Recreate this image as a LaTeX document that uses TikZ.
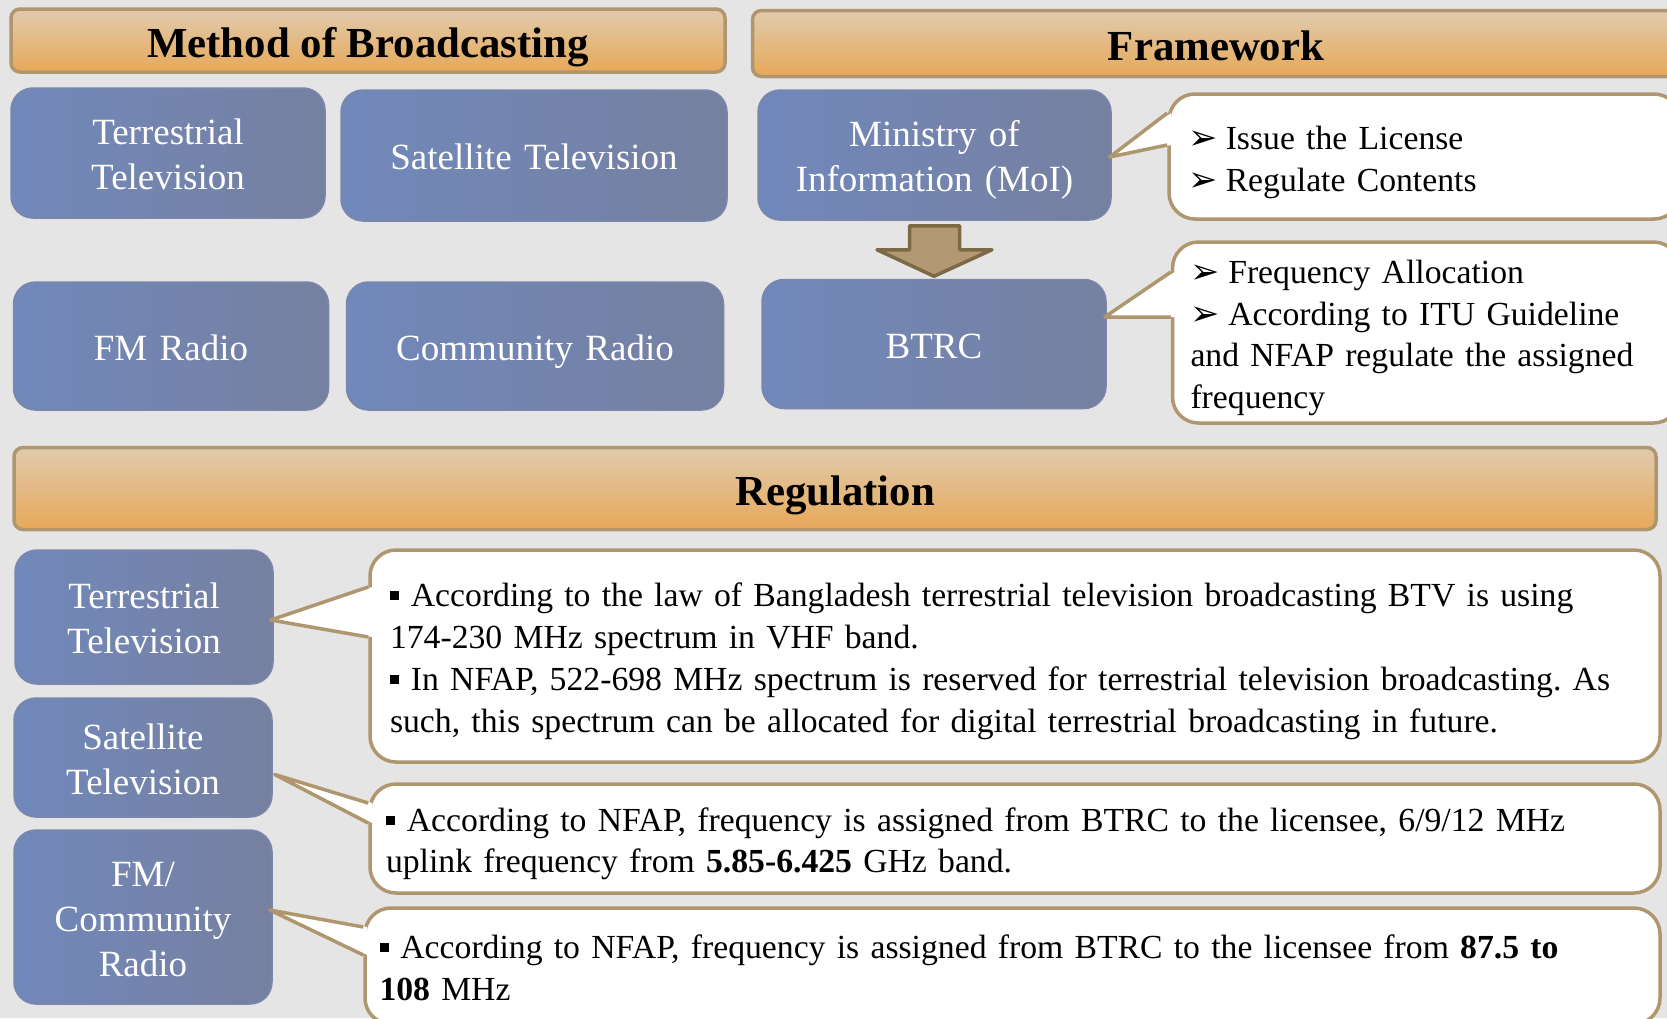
\documentclass[tikz,border=0pt]{standalone}
\usepackage{fontspec}
\setmainfont{Liberation Serif}
\newfontfamily\dingfont{DejaVu Sans}
\usetikzlibrary{calc}
\frenchspacing
\definecolor{paper}{RGB}{229,229,229}
\definecolor{bartop}{RGB}{224,203,174}
\definecolor{barbot}{RGB}{231,168,88}
\definecolor{tanline}{RGB}{176,150,110}
\definecolor{boxleft}{RGB}{113,136,187}
\definecolor{boxright}{RGB}{118,128,160}
\definecolor{boxedge}{RGB}{122,134,170}
\definecolor{arrfill}{RGB}{178,153,115}
\definecolor{arredge}{RGB}{125,105,70}
\newcommand{\arrbul}{{\dingfont\fontsize{35}{35}\selectfont\char"27A2}\hspace{0.25em}}
\newcommand{\sqbul}{\rule[0.2em]{0.27em}{0.27em}\hspace{0.35em}}
\begin{document}
\begin{tikzpicture}[x=1pt,y=-1pt]
	\tikzstyle{every node}+=[inner sep=0pt]
	\tikzstyle{headbar}=[draw=tanline, line width=3.5pt, rounded corners=9pt, top color=bartop, bottom color=barbot, font=\fontsize{42.8}{50}\selectfont\bfseries, execute at begin node={\rule{0pt}{43pt}}, execute at end node={\rule[-9pt]{0pt}{9pt}}]
	\tikzstyle{bluebox}=[draw=boxedge, line width=1.5pt, rounded corners=22pt, left color=boxleft, right color=boxright, text=white, align=center, font=\fontsize{37}{45}\selectfont, execute at begin node={\rule{0pt}{36pt}}, execute at end node={\rule[-8pt]{0pt}{8pt}}]
	\tikzstyle{callout}=[draw=tanline, line width=3.5pt, fill=white, rounded corners=26pt, align=left, font=\fontsize{33.7}{42}\selectfont, execute at begin node={\rule{0pt}{36pt}}, execute at end node={\rule[-9pt]{0pt}{9pt}}]
	\tikzstyle{pointer}=[draw=tanline, line width=3.5pt, line join=round]
	\useasboundingbox (0,0) rectangle (1667,1018);
	\clip (0,0) rectangle (1667,1018);
	\fill [paper] (0,0) rectangle (1667,1018);
	% headers
	\node [headbar, minimum width=714, minimum height=63] (hmeth) at (368,40.5) {Method of Broadcasting};
	\node [headbar, minimum width=927, minimum height=66] (hframe) at (1216,43.5) {Framework};
	\node [headbar, minimum width=1642, minimum height=82] (hreg) at (835,488.5) {Regulation};
	% method of broadcasting
	\node [bluebox, minimum width=314, minimum height=130, text width=314pt] (mtt) at (168,153) {Terrestrial\\Television};
	\node [bluebox, minimum width=386, minimum height=131, text width=386pt] (msat) at (534,155.5) {Satellite Television};
	\node [bluebox, minimum width=315, minimum height=128, text width=315pt] (mfm) at (171,346) {FM Radio};
	\node [bluebox, minimum width=377, minimum height=128, text width=377pt] (mcom) at (535,346) {Community Radio};
	% framework
	\node [bluebox, minimum width=353, minimum height=130, text width=353pt] (moi) at (934.5,155) {Ministry of\\Information (MoI)};
	\node [bluebox, minimum width=344, minimum height=129, text width=344pt] (btrc) at (934,344) {BTRC};
	\node [callout, minimum width=511, minimum height=125, text width=473pt] (c1) at (1424.5,156.5) {\arrbul Issue the License\\\arrbul Regulate Contents};
	\node [callout, minimum width=507, minimum height=181, text width=471pt, font=\fontsize{33.7}{41.8}\selectfont] (c2) at (1426,332.5) {\arrbul Frequency Allocation\\\arrbul According to ITU Guideline\\and NFAP regulate the assigned\\frequency};
	\filldraw [pointer, fill=arrfill, draw=arredge] ($(moi.south)+(-25,5)$) -- ($(moi.south)+(25,5)$) -- ($(moi.south)+(25,29)$) -- ($(moi.south)+(57.5,29)$) -- ($(btrc.north)+(0,-2.5)$) -- ($(moi.south)+(-57.5,29)$) -- ($(moi.south)+(-25,29)$) -- cycle;
	\fill [white] ($(c1.west)+(4,-43.5)$) -- ($(moi.east)+(-2,2)$) -- ($(c1.west)+(4,-11.5)$) -- cycle;
	\draw [pointer] ($(c1.west)+(0,-43.5)$) -- ($(moi.east)+(-2,2)$) -- ($(c1.west)+(0,-11.5)$);
	\fill [white] ($(c2.west)+(4,-60.5)$) -- ($(btrc.east)+(-2,-27)$) -- ($(c2.west)+(4,-15.5)$) -- cycle;
	\draw [pointer] ($(c2.west)+(0,-60.5)$) -- ($(btrc.east)+(-2,-27)$) -- ($(c2.west)+(0,-15.5)$);
	% regulation
	\node [bluebox, minimum width=258, minimum height=134, text width=258pt] (rtt) at (144,617) {Terrestrial\\Television};
	\node [bluebox, minimum width=258, minimum height=119, text width=258pt] (rsat) at (143,757.5) {Satellite\\Television};
	\node [bluebox, minimum width=258, minimum height=174, text width=258pt] (rfm) at (143,917) {FM/\\Community\\Radio};
	\node [callout, minimum width=1290, minimum height=212, text width=1250pt] (ca) at (1015,656) {\sqbul According to the law of Bangladesh terrestrial television broadcasting BTV is using\\174-230 MHz spectrum in VHF band.\\\sqbul In NFAP, 522-698 MHz spectrum is reserved for terrestrial television broadcasting. As\\such, this spectrum can be allocated for digital terrestrial broadcasting in future.};
	\node [callout, minimum width=1290, minimum height=109, text width=1258pt, font=\fontsize{33.7}{40.5}\selectfont] (cb) at (1015,838.5) {\sqbul According to NFAP, frequency is assigned from BTRC to the licensee, 6/9/12 MHz\\uplink frequency from \textbf{5.85-6.425} GHz band.};
	\node [callout, minimum width=1295, minimum height=116, text width=1266pt] (cc) at (1012.5,966) {\sqbul According to NFAP, frequency is assigned from BTRC to the licensee from \textbf{87.5 to}\\\textbf{108} MHz};
	\fill [white] ($(ca.west)+(4,-69)$) -- ($(rtt.east)+(-3,3)$) -- ($(ca.west)+(4,-19)$) -- cycle;
	\draw [pointer] ($(ca.west)+(0,-69)$) -- ($(rtt.east)+(-3,3)$) -- ($(ca.west)+(0,-19)$);
	\fill [white] ($(cb.west)+(4,-35.5)$) -- ($(rsat.east)+(2,17)$) -- ($(cb.west)+(4,-15.5)$) -- cycle;
	\draw [pointer] ($(cb.west)+(0,-35.5)$) -- ($(rsat.east)+(2,17)$) -- ($(cb.west)+(0,-15.5)$);
	\fill [white] ($(cc.west)+(4,-39)$) -- ($(rfm.east)+(-3,-7)$) -- ($(cc.west)+(4,-11)$) -- cycle;
	\draw [pointer] ($(cc.west)+(0,-39)$) -- ($(rfm.east)+(-3,-7)$) -- ($(cc.west)+(0,-11)$);
\end{tikzpicture}
\end{document}
